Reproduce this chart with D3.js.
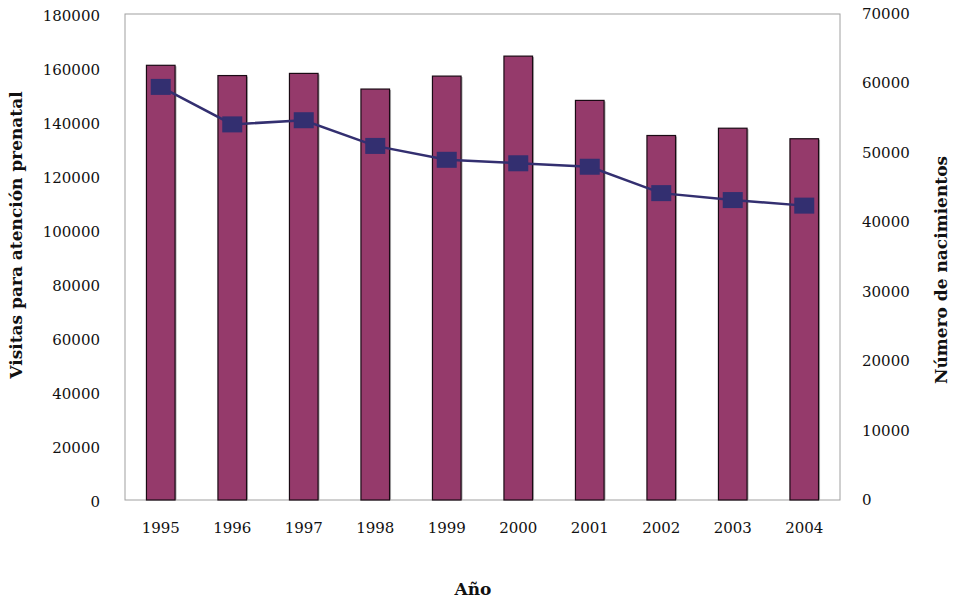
<!DOCTYPE html>
<html><head><meta charset="utf-8">
<script src="https://cdn.jsdelivr.net/npm/d3@7"></script>
<style>body{margin:0;background:#fff}svg{display:block}</style>
</head><body>
<svg id="c" width="954" height="600"></svg>
<script>
const years = ["1995","1996","1997","1998","1999","2000","2001","2002","2003","2004"];
const visitas = [161000,157200,158000,152200,157000,164400,148000,135000,137700,133800];
const nacimientos = [59500,54100,54700,51000,49000,48500,48000,44200,43200,42400];
const leftTicks = [0,20000,40000,60000,80000,100000,120000,140000,160000,180000];
const rightTicks = [0,10000,20000,30000,40000,50000,60000,70000];

const svg = d3.select("#c");
const m = {l:125, r:840, t:14, b:500};
const font = "'DejaVu Serif', serif";

const x = d3.scaleBand().domain(years).range([m.l, m.r]).paddingInner(0.6).paddingOuter(0.3);
const yL = d3.scaleLinear().domain([0,180000]).range([m.b, m.t]);
const yR = d3.scaleLinear().domain([0,70000]).range([m.b, m.t]);

// plot border
svg.append("rect").attr("x", m.l).attr("y", m.t).attr("width", m.r-m.l).attr("height", m.b-m.t)
  .attr("fill","none").attr("stroke","#a0a0a0").attr("stroke-width",1);

// bars shadow
svg.append("g").selectAll("rect").data(years).join("rect")
  .attr("x", d=>x(d)+1.5).attr("y", (d,i)=>yL(visitas[i])+1)
  .attr("width", x.bandwidth()).attr("height",(d,i)=>m.b-yL(visitas[i])-1)
  .attr("fill","#b0b0b0");
// bars
svg.append("g").selectAll("rect").data(years).join("rect")
  .attr("x", d=>x(d)).attr("y", (d,i)=>yL(visitas[i]))
  .attr("width", x.bandwidth()).attr("height",(d,i)=>m.b-yL(visitas[i]))
  .attr("fill","#953a6b").attr("stroke","#1a0a14").attr("stroke-width",1.2);

// line
const cx = d => x(d)+x.bandwidth()/2;
const line = d3.line().x((d,i)=>cx(years[i])).y(d=>yR(d));
svg.append("path").datum(nacimientos).attr("d", line)
  .attr("fill","none").attr("stroke","#332f70").attr("stroke-width",2.5);
svg.append("g").selectAll("rect").data(nacimientos).join("rect")
  .attr("x",(d,i)=>cx(years[i])-10).attr("y",d=>yR(d)-8)
  .attr("width",20).attr("height",16).attr("fill","#332f70");

// left axis
const axL = d3.axisLeft(yL).tickValues(leftTicks).tickSize(0).tickPadding(25).tickFormat(d3.format("d"));
const gL = svg.append("g").attr("transform",`translate(${m.l},0)`).call(axL);
gL.select(".domain").remove();
gL.selectAll("text").attr("font-family",font).attr("font-size",15).attr("fill","#111").attr("dy","0.45em");

// right axis
const axR = d3.axisRight(yR).tickValues(rightTicks).tickSize(0).tickPadding(22).tickFormat(d3.format("d"));
const gR = svg.append("g").attr("transform",`translate(${m.r},0)`).call(axR);
gR.select(".domain").remove();
gR.selectAll("text").attr("font-family",font).attr("font-size",15).attr("fill","#111").attr("dy","0.3em");

// bottom axis
const axB = d3.axisBottom(x).tickSize(0).tickPadding(22);
const gB = svg.append("g").attr("transform",`translate(0,${m.b})`).call(axB);
gB.select(".domain").remove();
gB.selectAll("text").attr("font-family",font).attr("font-size",15).attr("fill","#111");

// titles
svg.append("text").attr("transform","translate(22,235) rotate(-90)").attr("text-anchor","middle")
  .attr("font-family",font).attr("font-weight","bold").attr("font-size",17).attr("fill","#111")
  .text("Visitas para atención prenatal");
svg.append("text").attr("transform","translate(947,270) rotate(-90)").attr("text-anchor","middle")
  .attr("font-family",font).attr("font-weight","bold").attr("font-size",17).attr("fill","#111")
  .text("Número de nacimientos");
svg.append("text").attr("x",473).attr("y",595).attr("text-anchor","middle")
  .attr("font-family",font).attr("font-weight","bold").attr("font-size",17).attr("fill","#111")
  .text("Año");
</script>
</body></html>
